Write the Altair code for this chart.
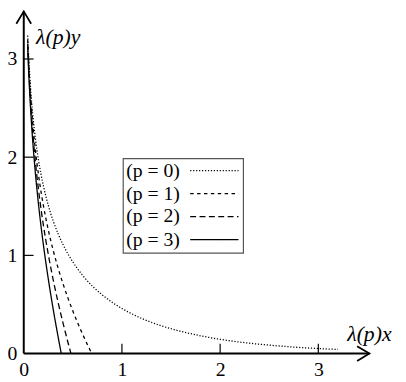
import altair as alt
import pandas as pd

# ---- data ----
series = ["(p = 0)", "(p = 1)", "(p = 2)", "(p = 3)"]

x_p0 = [0.04, 0.05, 0.06, 0.08, 0.10, 0.12, 0.15, 0.18, 0.20, 0.25, 0.30, 0.35, 0.40, 0.45, 0.50,
        0.60, 0.70, 0.80, 0.90, 1.00, 1.20, 1.40, 1.60, 1.80, 2.00, 2.25, 2.50, 2.75, 3.00, 3.20]
y_p0 = [3.239, 3.021, 2.843, 2.566, 2.352, 2.180, 1.971, 1.803, 1.708, 1.509, 1.350, 1.220, 1.110, 1.015, 0.933,
        0.796, 0.686, 0.597, 0.522, 0.459, 0.358, 0.283, 0.226, 0.181, 0.145, 0.111, 0.086, 0.066, 0.051, 0.042]

x_p1 = [0.04, 0.05, 0.06, 0.08, 0.10, 0.12, 0.15, 0.18, 0.20, 0.25, 0.30, 0.35, 0.40, 0.45, 0.50, 0.55, 0.60, 0.65, 0.693]
y_p1 = [3.199, 2.971, 2.783, 2.486, 2.252, 2.060, 1.821, 1.623, 1.508, 1.259, 1.050, 0.870, 0.710, 0.565, 0.433, 0.310, 0.196, 0.088, 0.0]

x_p2 = [0.04, 0.05, 0.06, 0.08, 0.10, 0.12, 0.15, 0.18, 0.20, 0.25, 0.30, 0.35, 0.40, 0.45, 0.481]
y_p2 = [3.159, 2.921, 2.723, 2.406, 2.152, 1.940, 1.671, 1.443, 1.308, 1.009, 0.750, 0.520, 0.310, 0.115, 0.0]

x_p3 = [0.04, 0.05, 0.06, 0.08, 0.10, 0.12, 0.15, 0.18, 0.20, 0.25, 0.30, 0.35, 0.382]
y_p3 = [3.119, 2.871, 2.663, 2.326, 2.052, 1.820, 1.521, 1.263, 1.108, 0.759, 0.450, 0.170, 0.0]

tick_values = [1, 2, 3]
label_values = [0, 1, 2, 3]

# ---- layout constants (data units) ----
axis_end_x = 3.52
axis_end_y = 3.485
tick_len = 0.1
legend_box = {"x": 1.013, "x2": 2.237, "y": 1.023, "y2": 1.986}
legend_row_y = [1.862, 1.629, 1.395, 1.160]
legend_text_x = 1.043
legend_line_x = [1.695, 2.187]

dashes = [[1.2, 1.8], [3.5, 3.5], [6, 3.5], [1, 0]]
FONT = "Liberation Serif"
FS = 20

# ---- tables ----
rows = []
for name, xs, ys in zip(series, [x_p0, x_p1, x_p2, x_p3], [y_p0, y_p1, y_p2, y_p3]):
    for a, b in zip(xs, ys):
        rows.append({"series": name, "x": a, "y": b})
curve_df = pd.DataFrame(rows)

xscale = alt.Scale(domain=[-0.16048, 3.8114], nice=False, zero=False)
yscale = alt.Scale(domain=[-0.26078, 3.49047], nice=False, zero=False)
dash_scale = alt.Scale(domain=series, range=dashes)

x_axis = alt.Axis(
    values=label_values, orient="bottom", offset=-26, domain=False, ticks=False, tickSize=0,
    grid=False, labelPadding=16, labelBaseline="middle", labelFont=FONT, labelFontSize=FS,
    labelColor="black", labelFlush=False, format="d",
    title="λ(p)x", titleAngle=0, titleX=344, titleY=-13, titleAlign="left",
    titleBaseline="alphabetic", titleFont=FONT, titleFontSize=22, titleFontStyle="italic",
    titleFontWeight="normal", titleColor="black")
y_axis = alt.Axis(
    values=label_values, orient="left", offset=-16, domain=False, ticks=False, tickSize=0,
    grid=False, labelPadding=12, labelAlign="center", labelBaseline="middle", labelFont=FONT,
    labelFontSize=FS, labelColor="black", labelFlush=False, format="d",
    title="λ(p)y", titleAngle=0, titleX=12, titleY=33, titleAlign="left",
    titleBaseline="alphabetic", titleFont=FONT, titleFontSize=22, titleFontStyle="italic",
    titleFontWeight="normal", titleColor="black")

curves = alt.Chart(curve_df).mark_line(color="black", strokeWidth=1.3, interpolate="monotone").encode(
    x=alt.X("x:Q", scale=xscale, axis=x_axis),
    y=alt.Y("y:Q", scale=yscale, axis=y_axis),
    strokeDash=alt.StrokeDash("series:N", scale=dash_scale, legend=None),
)

axes_df = pd.DataFrame({"x": [0, 0], "x2": [axis_end_x, 0], "y": [0, 0], "y2": [0, axis_end_y]})
axis_lines = alt.Chart(axes_df).mark_rule(color="black", strokeWidth=2).encode(
    x=alt.X("x:Q", scale=xscale), x2="x2:Q",
    y=alt.Y("y:Q", scale=yscale), y2="y2:Q")

xt_df = pd.DataFrame({"x": tick_values, "y": [0] * 3, "y2": [tick_len] * 3})
x_ticks = alt.Chart(xt_df).mark_rule(color="black", strokeWidth=1.2).encode(
    x=alt.X("x:Q", scale=xscale),
    y=alt.Y("y:Q", scale=yscale), y2="y2:Q")

yt_df = pd.DataFrame({"x": [0] * 3, "x2": [tick_len] * 3, "y": tick_values})
y_ticks = alt.Chart(yt_df).mark_rule(color="black", strokeWidth=1.2).encode(
    x=alt.X("x:Q", scale=xscale), x2="x2:Q",
    y=alt.Y("y:Q", scale=yscale))

arrow_x = alt.Chart(pd.DataFrame({"x": [axis_end_x], "y": [0]})).mark_point(
    shape="M-1,-0.6L0,0L-1,0.6", size=625, filled=False, strokeWidth=1.8, color="black", opacity=1
).encode(x=alt.X("x:Q", scale=xscale), y=alt.Y("y:Q", scale=yscale))

arrow_y = alt.Chart(pd.DataFrame({"x": [0], "y": [axis_end_y]})).mark_point(
    shape="M-0.6,1L0,0L0.6,1", size=625, filled=False, strokeWidth=1.8, color="black", opacity=1
).encode(x=alt.X("x:Q", scale=xscale), y=alt.Y("y:Q", scale=yscale))

# ---- legend (label left, line sample right, framed) ----
box = alt.Chart(pd.DataFrame([legend_box])).mark_rect(
    fill="white", stroke="#555555", strokeWidth=1.2
).encode(x=alt.X("x:Q", scale=xscale), x2="x2:Q", y=alt.Y("y:Q", scale=yscale), y2="y2:Q")

leg_df = pd.DataFrame({
    "series": series,
    "tx": [legend_text_x] * 4,
    "lx": [legend_line_x[0]] * 4,
    "lx2": [legend_line_x[1]] * 4,
    "y": legend_row_y,
})
leg_text = alt.Chart(leg_df).mark_text(
    align="left", baseline="middle", font=FONT, fontSize=FS, color="black"
).encode(x=alt.X("tx:Q", scale=xscale), y=alt.Y("y:Q", scale=yscale), text="series:N")
leg_lines = alt.Chart(leg_df).mark_rule(color="black", strokeWidth=1.3).encode(
    x=alt.X("lx:Q", scale=xscale), x2="lx2:Q", y=alt.Y("y:Q", scale=yscale),
    strokeDash=alt.StrokeDash("series:N", scale=dash_scale, legend=None))

chart = alt.layer(curves, axis_lines, x_ticks, y_ticks, arrow_x, arrow_y, box, leg_text, leg_lines).properties(
    width=396, height=374, autosize="none", padding=0, background="white"
).configure_view(strokeWidth=0)

chart.save("out.html", embed_options={"renderer": "svg", "actions": False})
